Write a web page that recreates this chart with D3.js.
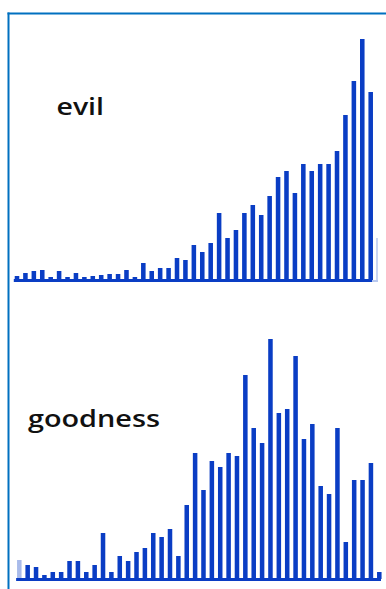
<!DOCTYPE html>
<html>
<head>
<meta charset="utf-8">
<script src="https://cdn.jsdelivr.net/npm/d3@7"></script>
<style>
  html, body { margin: 0; padding: 0; background: #fff; }
  svg { display: block; }
</style>
</head>
<body>
<div id="chart"></div>
<script>
// bar heights (arbitrary units, one per year)
const evilValues = [
    4, 7, 9, 10, 3, 9, 3, 7, 3, 4, 5, 6, 6, 10, 3,
    17, 9, 12, 12, 22, 20, 35, 28, 37, 67, 42, 50, 67, 75, 65,
    84, 103, 109, 87, 116, 109, 116, 116, 129, 165, 199, 241, 188
];
const goodValues = [
    19, 14, 12, 4, 7, 7, 18, 18, 7, 14, 46, 7, 23, 18, 27,
    31, 46, 42, 50, 23, 74, 126, 89, 118, 112, 126, 123, 204, 151, 136,
    240, 166, 170, 223, 140, 155, 93, 85, 151, 37, 99, 99, 116, 7
];
const labels = ["evil", "goodness"];

const width = 386, height = 589;
const barColor = "#0a3dc4";
const frameColor = "#0070c0";

const svg = d3.select("#chart").append("svg")
    .attr("width", width)
    .attr("height", height);

// frame: left and top rule
svg.append("line")
    .attr("x1", 8.5).attr("x2", 8.5)
    .attr("y1", 12.5).attr("y2", height)
    .attr("stroke", frameColor)
    .attr("stroke-width", 2);
svg.append("line")
    .attr("x1", 7.5).attr("x2", width)
    .attr("y1", 13.5).attr("y2", 13.5)
    .attr("stroke", frameColor)
    .attr("stroke-width", 2);

function drawPanel(values, opts) {
    const step = (opts.xLast - opts.xFirst) / (values.length - 1);
    const x = d3.scaleBand()
        .domain(d3.range(values.length))
        .range([opts.xFirst - step / 2, opts.xLast + step / 2])
        .paddingInner(0.46)
        .paddingOuter(0.23);
    const y = d3.scaleLinear()
        .domain([0, 250])
        .range([opts.base, opts.base - 250]);

    const g = svg.append("g");

    g.selectAll("rect.bar")
        .data(values)
        .enter().append("rect")
        .attr("class", "bar")
        .attr("x", (d, i) => x(i))
        .attr("y", d => y(d))
        .attr("width", x.bandwidth())
        .attr("height", d => y(0) - y(d))
        .attr("fill", barColor)
        .attr("opacity", (d, i) => (opts.fadeFirst && i === 0) ? 0.35 : 1);

    // baseline
    g.append("line")
        .attr("x1", x.range()[0] + 1)
        .attr("x2", opts.axisEnd)
        .attr("y1", y(0) + 0.5)
        .attr("y2", y(0) + 0.5)
        .attr("stroke", barColor)
        .attr("stroke-width", 3);

    if (opts.edge) {
        g.append("line")
            .attr("x1", opts.edge).attr("x2", opts.edge)
            .attr("y1", y(0) + 2).attr("y2", y(42))
            .attr("stroke", "#b8c8ee")
            .attr("stroke-width", 1.5);
        g.append("line")
            .attr("x1", opts.axisEnd).attr("x2", opts.edge + 1)
            .attr("y1", y(0) + 1).attr("y2", y(0) + 1)
            .attr("stroke", "#b8c8ee")
            .attr("stroke-width", 2);
    }

    svg.append("text")
        .attr("x", opts.labelX)
        .attr("y", opts.labelY)
        .attr("textLength", opts.labelW)
        .attr("lengthAdjust", "spacingAndGlyphs")
        .attr("font-family", "'Open Sans', sans-serif")
        .attr("font-weight", 600)
        .attr("font-size", 24)
        .attr("fill", "#111")
        .text(opts.label);
}

drawPanel(evilValues, {
    xFirst: 17, xLast: 370.7, base: 280,
    axisEnd: 372, edge: 377,
    label: labels[0], labelX: 56.5, labelY: 115, labelW: 47.5
});

drawPanel(goodValues, {
    xFirst: 19.3, xLast: 379.3, base: 579,
    axisEnd: 381, fadeFirst: true,
    label: labels[1], labelX: 28, labelY: 426.5, labelW: 132
});
</script>
</body>
</html>
